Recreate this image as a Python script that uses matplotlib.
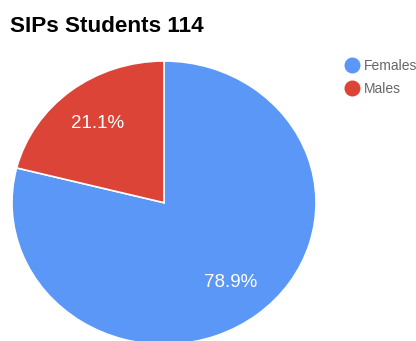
import matplotlib
matplotlib.use("Agg")
import matplotlib.pyplot as plt
from matplotlib.lines import Line2D

plt.rcParams['font.family'] = ['Liberation Sans', 'DejaVu Sans']

title = "SIPs Students 114"
categories = ["Females", "Males"]
counts = [90, 24]
colors = ["#5b97f6", "#db4437"]

fig = plt.figure(figsize=(4.16, 3.41), dpi=100)
W, H = 416, 341

# pie area (pixel box: left 12, top 61, width 304, height 283)
ax = fig.add_axes([12 / W, (H - 344.4) / H, 304 / W, 283.4 / H])
wedges, texts, autotexts = ax.pie(
    counts, colors=colors, startangle=90, counterclock=False,
    autopct=lambda p: f"{p:.1f}%", pctdistance=0.71,
    wedgeprops=dict(edgecolor="white", linewidth=1.2),
    textprops=dict(color="white", fontsize=13.5),
)
ax.set_aspect('auto')
ax.set_xlim(-1, 1)
ax.set_ylim(-1, 1)
ax.axis('off')

fig.text(10 / W, 1 - 31.7 / H, title, fontsize=16.2, fontweight='bold',
         color="#000000", ha='left', va='baseline')

handles = [Line2D([0], [0], marker='o', linestyle='none', markersize=10.5,
                  markerfacecolor=c, markeredgecolor=c) for c in colors]
leg = fig.legend(handles, categories, loc='upper left',
                 bbox_to_anchor=(344 / W, 1 - 59 / H), frameon=False,
                 fontsize=10, handletextpad=0.2, labelspacing=0.65,
                 borderaxespad=0, borderpad=0, handlelength=1.2)
for t in leg.get_texts():
    t.set_color("#666666")

fig.savefig("out.png", dpi=100)
